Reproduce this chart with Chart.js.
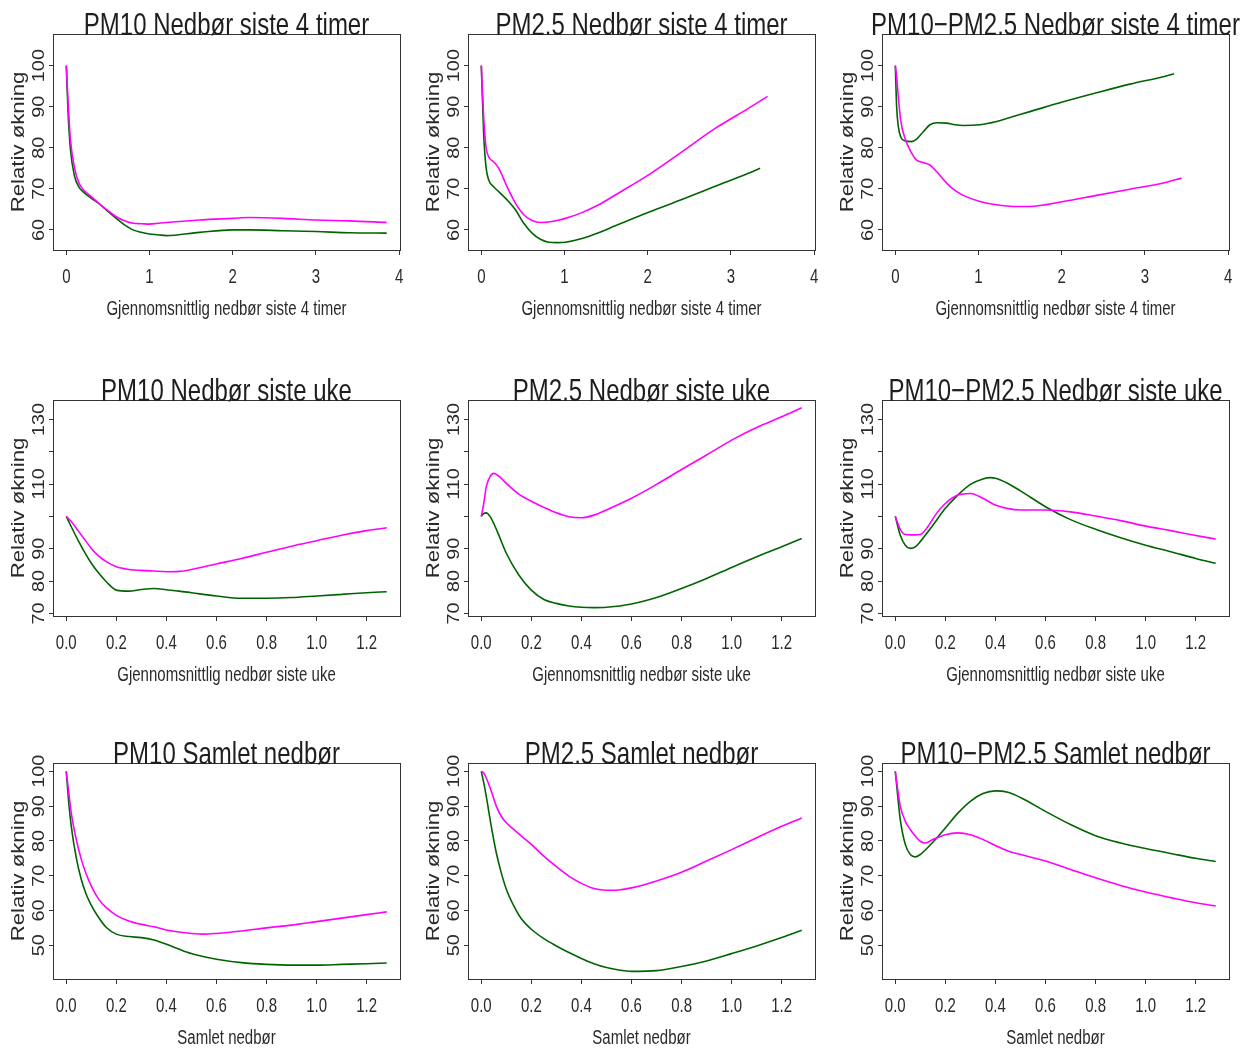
<!DOCTYPE html>
<html lang="no">
<head>
<meta charset="utf-8">
<title>Relativ økning og nedbør</title>
<script src="https://cdn.jsdelivr.net/npm/chart.js@4.4.1/dist/chart.umd.min.js"></script>
<style>
    body { margin: 0; background: #fff; }
    #grid { position: relative; width: 1253px; height: 1049px; }
    #grid canvas { position: absolute; }
</style>
</head>
<body>
<div id="grid"></div>
<script>
// Tick values and labels per row
var ticks4t = [0, 1, 2, 3, 4];
var ticks4tLabels = ["0", "1", "2", "3", "4"];
var ticksUke = [0, 0.2, 0.4, 0.6, 0.8, 1.0, 1.2];
var ticksUkeLabels = ["0.0", "0.2", "0.4", "0.6", "0.8", "1.0", "1.2"];
var yTicksRow1 = [60, 70, 80, 90, 100];
var yLabelsRow1 = ["60", "70", "80", "90", "100"];
var yTicksRow2 = [70, 80, 90, 100, 110, 120, 130];
var yLabelsRow2 = ["70", "80", "90", "", "110", "", "130"];
var yTicksRow3 = [50, 60, 70, 80, 90, 100];
var yLabelsRow3 = ["50", "60", "70", "80", "90", "100"];

// PM10, nedbør siste 4 timer
var x1 = [0, 0.02, 0.05, 0.1, 0.15, 0.2, 0.3, 0.4, 0.5, 0.6, 0.7, 0.8, 0.9, 1.0, 1.1, 1.2, 1.6, 2.0, 2.2, 2.6, 3.0, 3.4, 3.85];
var magenta1 = [100, 91.6, 81.9, 75, 71.5, 69.9, 68.1, 66.3, 64.7, 63.2, 62.2, 61.6, 61.5, 61.4, 61.6, 61.8, 62.4, 62.8, 63, 62.8, 62.4, 62.2, 61.8];
var green1 = [100, 89, 79.5, 73, 70.5, 69.3, 67.7, 66.3, 64.5, 62.8, 61.2, 60, 59.4, 59, 58.8, 58.6, 59.4, 60, 60, 59.8, 59.6, 59.3, 59.2];

// PM2.5, nedbør siste 4 timer
var x2m = [0, 0.028, 0.056, 0.088, 0.148, 0.21, 0.31, 0.41, 0.51, 0.61, 0.71, 0.81, 0.91, 1.01, 1.21, 1.41, 1.61, 2.01, 2.41, 2.81, 3.21, 3.44];
var magenta2 = [100, 87.6, 80.3, 77.8, 76.6, 75, 70.5, 66.5, 63.7, 62.3, 61.8, 61.9, 62.3, 62.8, 64.2, 66.1, 68.5, 73.4, 79, 84.7, 89.6, 92.5];
var x2g = [0, 0.028, 0.056, 0.088, 0.148, 0.21, 0.31, 0.41, 0.51, 0.61, 0.71, 0.81, 0.91, 1.01, 1.21, 1.41, 1.61, 2.01, 2.41, 2.81, 3.21, 3.35];
var green2 = [100, 83.5, 75.4, 72.2, 70.5, 69.3, 67.3, 64.9, 61.6, 59.2, 57.7, 57, 56.9, 57, 57.9, 59.3, 61, 64.3, 67.4, 70.6, 73.8, 75];

// PM10-PM2.5, nedbør siste 4 timer
var x3m = [0, 0.016, 0.036, 0.064, 0.116, 0.196, 0.256, 0.336, 0.416, 0.496, 0.617, 0.717, 0.817, 1.017, 1.217, 1.417, 1.618, 2.018, 2.418, 2.819, 3.219, 3.44];
var magenta3 = [100, 97.3, 92.5, 86.8, 82.3, 78.7, 77, 76.4, 75.8, 74.2, 71.4, 69.6, 68.4, 66.9, 66.1, 65.7, 65.7, 66.9, 68.4, 69.9, 71.4, 72.6];
var x3g = [0, 0.016, 0.036, 0.064, 0.116, 0.196, 0.256, 0.336, 0.416, 0.496, 0.617, 0.717, 0.817, 1.017, 1.217, 1.417, 1.618, 2.018, 2.418, 2.819, 3.219, 3.35];
var green3 = [100, 90, 85.2, 82.7, 81.7, 81.5, 82.1, 83.9, 85.6, 86.1, 86, 85.6, 85.4, 85.6, 86.4, 87.6, 88.8, 91.2, 93.4, 95.5, 97.3, 98];

// PM10, nedbør siste uke
var x4 = [0, 0.02, 0.05, 0.08, 0.1, 0.13, 0.16, 0.2, 0.25, 0.3, 0.35, 0.4, 0.45, 0.5, 0.6, 0.7, 0.8, 0.9, 1.0, 1.1, 1.2, 1.28];
var magenta4 = [100, 98.4, 95.3, 92.2, 90.1, 87.7, 86, 84.4, 83.6, 83.3, 83.1, 82.9, 83, 83.6, 85.3, 87, 88.9, 90.8, 92.5, 94.2, 95.6, 96.5];
var green4 = [100, 96.8, 92.2, 88, 85.5, 82.4, 79.8, 77.2, 76.9, 77.4, 77.7, 77.3, 76.9, 76.4, 75.4, 74.7, 74.7, 74.9, 75.4, 75.9, 76.4, 76.7];

// PM2.5, nedbør siste uke
var x5 = [0, 0.01, 0.02, 0.035, 0.05, 0.07, 0.1, 0.15, 0.2, 0.25, 0.3, 0.35, 0.4, 0.45, 0.5, 0.6, 0.7, 0.8, 0.9, 1.0, 1.1, 1.2, 1.28];
var magenta5 = [100, 104, 109.2, 112.3, 113.3, 112.5, 110.2, 106.9, 104.7, 102.8, 101.1, 99.9, 99.6, 100.4, 102, 105.6, 109.9, 114.5, 119, 123.6, 127.5, 130.8, 133.6];
var green5 = [100, 100.9, 101.1, 100, 97.8, 94.2, 88.6, 81.9, 77.2, 74.3, 73.1, 72.3, 71.9, 71.8, 71.9, 72.9, 74.9, 77.7, 80.8, 84.2, 87.5, 90.6, 93.2];

// PM10-PM2.5, nedbør siste uke
var x6 = [0, 0.02, 0.04, 0.06, 0.08, 0.1, 0.13, 0.16, 0.2, 0.25, 0.3, 0.35, 0.38, 0.4, 0.45, 0.5, 0.6, 0.7, 0.8, 0.9, 1.0, 1.1, 1.2, 1.28];
var magenta6 = [100, 96, 94.4, 94.3, 94.3, 94.4, 96.8, 100.4, 104, 106.6, 107.1, 105.6, 104.3, 103.5, 102.4, 102, 102, 101.4, 100.1, 98.7, 97, 95.6, 94.1, 93];
var green6 = [100, 94.2, 91.1, 90.1, 90.6, 92.2, 95.2, 98.3, 102.5, 106.6, 109.9, 111.6, 112, 111.8, 110.2, 107.9, 103, 99, 96, 93.4, 91.1, 89.1, 87, 85.5];

// PM10, samlet nedbør
var x7 = [0, 0.01, 0.02, 0.04, 0.06, 0.08, 0.1, 0.13, 0.16, 0.2, 0.25, 0.3, 0.35, 0.4, 0.45, 0.5, 0.55, 0.6, 0.7, 0.8, 0.9, 1.0, 1.1, 1.2, 1.28];
var magenta7 = [100, 93.8, 88, 80.4, 74.7, 70.4, 67, 63.2, 60.8, 58.6, 57, 56, 55.3, 54.4, 53.8, 53.4, 53.2, 53.4, 54.1, 55, 55.8, 56.8, 57.8, 58.8, 59.6];
var green7 = [100, 90.9, 84.2, 75.1, 68.9, 64.6, 61.5, 57.9, 55.1, 53.2, 52.5, 52.2, 51.5, 50.3, 48.9, 47.6, 46.7, 46, 45, 44.5, 44.3, 44.3, 44.5, 44.7, 44.9];

// PM2.5, samlet nedbør
var x8 = [0, 0.01, 0.02, 0.04, 0.06, 0.08, 0.1, 0.13, 0.16, 0.2, 0.25, 0.3, 0.35, 0.4, 0.45, 0.5, 0.55, 0.6, 0.7, 0.8, 0.9, 1.0, 1.1, 1.2, 1.28];
var magenta8 = [100, 99.5, 98.1, 94.3, 90, 87.1, 85.2, 83.3, 81.4, 79, 75.6, 72.6, 69.9, 67.8, 66.3, 65.8, 65.9, 66.5, 68.5, 71, 74.2, 77.5, 80.9, 84.2, 86.6];
var green8 = [100, 96.7, 92.8, 84.2, 76.6, 70.8, 66.1, 61.3, 57.6, 54.6, 51.9, 49.8, 47.9, 46.2, 44.7, 43.6, 42.9, 42.5, 42.7, 43.9, 45.5, 47.6, 49.8, 52.2, 54.3];

// PM10-PM2.5, samlet nedbør
var x9 = [0, 0.01, 0.02, 0.04, 0.06, 0.08, 0.1, 0.12, 0.15, 0.2, 0.25, 0.3, 0.35, 0.4, 0.45, 0.5, 0.6, 0.7, 0.8, 0.9, 1.0, 1.1, 1.2, 1.28];
var magenta9 = [100, 94.7, 90, 85.7, 83.3, 81.4, 79.9, 79.4, 80.4, 81.8, 82.3, 81.8, 80.4, 78.7, 77.1, 76.1, 74.2, 71.8, 69.4, 67.2, 65.3, 63.7, 62.2, 61.3];
var green9 = [100, 92.8, 86.1, 79, 76.1, 75.4, 76.1, 77.4, 79.6, 83.7, 88, 91.4, 93.6, 94.4, 94, 92.5, 88.5, 84.7, 81.5, 79.4, 77.8, 76.4, 75, 74.1];

var rows = [
    { xTitle: "Gjennomsnittlig nedbør siste 4 timer", xTicks: ticks4t, xLabels: ticks4tLabels, xMin: -0.16, xMax: 4.01,
      yTicks: yTicksRow1, yLabels: yLabelsRow1, yMin: 55.1, yMax: 107.7 },
    { xTitle: "Gjennomsnittlig nedbør siste uke", xTicks: ticksUke, xLabels: ticksUkeLabels, xMin: -0.053, xMax: 1.333,
      yTicks: yTicksRow2, yLabels: yLabelsRow2, yMin: 69.2, yMax: 136 },
    { xTitle: "Samlet nedbør", xTicks: ticksUke, xLabels: ticksUkeLabels, xMin: -0.053, xMax: 1.333,
      yTicks: yTicksRow3, yLabels: yLabelsRow3, yMin: 40.3, yMax: 102.4 }
];

var panels = [
    { row: 0, col: 0, title: "PM10 Nedbør siste 4 timer", xm: x1, m: magenta1, xg: x1, g: green1 },
    { row: 0, col: 1, title: "PM2.5 Nedbør siste 4 timer", xm: x2m, m: magenta2, xg: x2g, g: green2 },
    { row: 0, col: 2, title: "PM10\u2212PM2.5 Nedbør siste 4 timer", xm: x3m, m: magenta3, xg: x3g, g: green3 },
    { row: 1, col: 0, title: "PM10 Nedbør siste uke", xm: x4, m: magenta4, xg: x4, g: green4 },
    { row: 1, col: 1, title: "PM2.5 Nedbør siste uke", xm: x5, m: magenta5, xg: x5, g: green5 },
    { row: 1, col: 2, title: "PM10\u2212PM2.5 Nedbør siste uke", xm: x6, m: magenta6, xg: x6, g: green6 },
    { row: 2, col: 0, title: "PM10 Samlet nedbør", xm: x7, m: magenta7, xg: x7, g: green7 },
    { row: 2, col: 1, title: "PM2.5 Samlet nedbør", xm: x8, m: magenta8, xg: x8, g: green8 },
    { row: 2, col: 2, title: "PM10\u2212PM2.5 Samlet nedbør", xm: x9, m: magenta9, xg: x9, g: green9 }
];

var COL_LEFT = [0, 415, 829];
var ROW_TOP = [0, 366, 729];
var FONT = '"Liberation Sans", Arial, Helvetica, sans-serif';

// text in the original is stretched vertically, so draw it with a scale
function stretchText(ctx, s, x, y, size, k, vertical) {
    ctx.save();
    ctx.translate(x, y);
    if (vertical) {
        ctx.rotate(-Math.PI / 2);
        ctx.scale(k, 1);
    } else {
        ctx.scale(1, k);
    }
    ctx.font = size + "px " + FONT;
    ctx.textAlign = "center";
    ctx.textBaseline = "alphabetic";
    ctx.fillText(s, 0, 0);
    ctx.restore();
}

function framePlugin(panel, row) {
    return {
        id: "frame",
        afterDraw: function(chart) {
            var ctx = chart.ctx, a = chart.chartArea;
            var xs = chart.scales.x, ys = chart.scales.y;
            ctx.save();
            ctx.strokeStyle = "#333";
            ctx.lineWidth = 1;
            ctx.strokeRect(Math.round(a.left) + 0.5, Math.round(a.top) + 0.5,
                Math.round(a.right - a.left), Math.round(a.bottom - a.top));
            ctx.fillStyle = "#2a2a2a";
            row.xTicks.forEach(function(v, i) {
                stretchText(ctx, row.xLabels[i], xs.getPixelForValue(v), a.bottom + 33, 15, 1.4, false);
            });
            row.yTicks.forEach(function(v, i) {
                if (row.yLabels[i]) stretchText(ctx, row.yLabels[i], a.left - 9, ys.getPixelForValue(v), 16.5, 1.2, true);
            });
            stretchText(ctx, row.xTitle, (a.left + a.right) / 2, a.bottom + 65, 15, 1.33, false);
            stretchText(ctx, "Relativ økning", a.left - 29, (a.top + a.bottom) / 2, 18.5, 1.2, true);
            ctx.fillStyle = "#1e1e1e";
            stretchText(ctx, panel.title, (a.left + a.right) / 2, a.top + 1, 24, 1.33, false);
            ctx.restore();
        }
    };
}

function points(xs, ys) {
    return xs.map(function(v, i) { return { x: v, y: ys[i] }; });
}

var grid = document.getElementById("grid");
panels.forEach(function(p) {
    var row = rows[p.row];
    var canvas = document.createElement("canvas");
    canvas.width = 414;
    canvas.height = 320;
    canvas.style.left = COL_LEFT[p.col] + "px";
    canvas.style.top = ROW_TOP[p.row] + "px";
    canvas.style.width = "414px";
    canvas.style.height = "320px";
    grid.appendChild(canvas);

    new Chart(canvas.getContext("2d"), {
        type: "line",
        data: {
            datasets: [
                { data: points(p.xm, p.m), borderColor: "#ff00ff", borderWidth: 1.6, pointRadius: 0,
                  cubicInterpolationMode: "monotone", fill: false },
                { data: points(p.xg, p.g), borderColor: "#006400", borderWidth: 1.6, pointRadius: 0,
                  cubicInterpolationMode: "monotone", fill: false }
            ]
        },
        options: {
            responsive: false,
            animation: false,
            events: [],
            layout: { padding: { left: 53, top: 34, right: 14, bottom: 70 } },
            plugins: { legend: { display: false }, title: { display: false }, tooltip: { enabled: false } },
            scales: {
                x: {
                    type: "linear",
                    min: row.xMin,
                    max: row.xMax,
                    afterBuildTicks: function(s) { s.ticks = row.xTicks.map(function(v) { return { value: v }; }); },
                    afterFit: function(s) { s.height = 0; },
                    ticks: { display: false },
                    grid: { display: true, drawOnChartArea: false, drawTicks: true, tickLength: 5, color: "#333", lineWidth: 1 },
                    border: { display: false }
                },
                y: {
                    type: "linear",
                    min: row.yMin,
                    max: row.yMax,
                    afterBuildTicks: function(s) { s.ticks = row.yTicks.map(function(v) { return { value: v }; }); },
                    afterFit: function(s) { s.width = 0; },
                    ticks: { display: false },
                    grid: { display: true, drawOnChartArea: false, drawTicks: true, tickLength: 4, color: "#333", lineWidth: 1 },
                    border: { display: false }
                }
            }
        },
        plugins: [framePlugin(p, row)]
    });
});
</script>
</body>
</html>
